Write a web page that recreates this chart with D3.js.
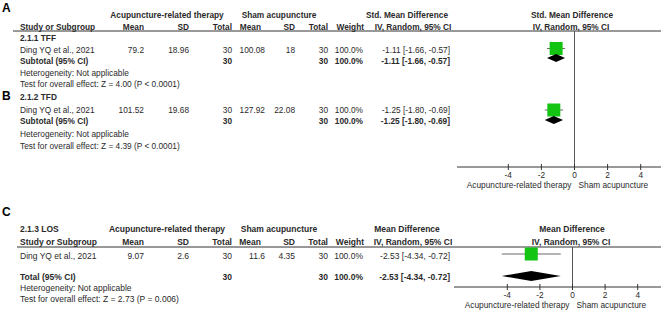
<!DOCTYPE html>
<html><head><meta charset="utf-8">
<script src="https://cdn.jsdelivr.net/npm/d3@7"></script>
<style>body{margin:0;background:#fff}svg{display:block}</style>
</head><body>
<script>
// ---- data ----
const panelLetters = ["A", "B", "C"];
const subgroupLabels = ["2.1.1 TFF", "2.1.2 TFD", "2.1.3 LOS"];
const studyNames = ["Ding YQ et al., 2021", "Ding YQ et al., 2021", "Ding YQ et al., 2021"];
const expMean = ["79.2", "101.52", "9.07"];
const expSD = ["18.96", "19.68", "2.6"];
const expTotal = [30, 30, 30];
const ctlMean = ["100.08", "127.92", "11.6"];
const ctlSD = ["18", "22.08", "4.35"];
const ctlTotal = [30, 30, 30];
const weights = ["100.0%", "100.0%", "100.0%"];
const estimates = [-1.11, -1.25, -2.53];
const ciLow = [-1.66, -1.80, -4.34];
const ciHigh = [-0.57, -0.69, -0.72];
const zValues = ["4.00", "4.39", "2.73"];
const pValues = ["P < 0.0001", "P < 0.0001", "P = 0.006"];
const effectLabels = ["Std. Mean Difference", "Std. Mean Difference", "Mean Difference"];
const axisTicks = [-4, -2, 0, 2, 4];
const groupNames = ["Acupuncture-related therapy", "Sham acupuncture"];

// ---- drawing ----
const W = 661, H = 322;
const svg = d3.select("body").append("svg").attr("width", W).attr("height", H)
  .style("font-family", "'Liberation Sans', Arial, sans-serif");
const TXT = "#2a2a2a";
const loc = d3.formatLocale({decimal: ".", thousands: ",", grouping: [3], currency: ["", ""], minus: "-"});
const f2 = loc.format(".2f");
const fd = loc.format("d");
const ciText = i => `${f2(estimates[i])} [${f2(ciLow[i])}, ${f2(ciHigh[i])}]`;

function t(x, y, s, opt = {}) {
  return svg.append("text").attr("x", x).attr("y", y + 3)
    .attr("text-anchor", opt.anchor || "start")
    .attr("font-size", opt.size || 8.3)
    .attr("font-weight", opt.bold ? "bold" : "normal")
    .attr("fill", opt.fill || TXT).text(s);
}

// scales for the two forest plots
const xAB = d3.scaleLinear().domain([-4, 4]).range([508.3, 640.7]);
const xC = d3.scaleLinear().domain([-4, 4]).range([507.3, 637.7]);

function header(yG, yC, lineY, lineX0, idx, sz) {
  t(167, yG, groupNames[0], {anchor: "middle", bold: true, size: sz});
  t(279, yG, groupNames[1], {anchor: "middle", bold: true, size: sz});
  t(407, yG, effectLabels[idx], {anchor: "middle", bold: true, size: sz});
  t(572, yG, effectLabels[idx], {anchor: "middle", bold: true, size: sz});
  t(20, yC, "Study or Subgroup", {bold: true, size: sz});
  t(144, yC, "Mean", {anchor: "end", bold: true, size: sz});
  t(189, yC, "SD", {anchor: "end", bold: true, size: sz});
  t(232, yC, "Total", {anchor: "end", bold: true, size: sz});
  t(261, yC, "Mean", {anchor: "end", bold: true, size: sz});
  t(295, yC, "SD", {anchor: "end", bold: true, size: sz});
  t(328, yC, "Total", {anchor: "end", bold: true, size: sz});
  t(364, yC, "Weight", {anchor: "end", bold: true, size: sz});
  t(413, yC, "IV, Random, 95% CI", {anchor: "middle", bold: true, size: sz});
  t(571, yC, "IV, Random, 95% CI", {anchor: "middle", bold: true, size: sz});
  svg.append("line").attr("x1", lineX0).attr("x2", W).attr("y1", lineY).attr("y2", lineY)
    .attr("stroke", "#333").attr("stroke-width", 1);
}

function studyRow(i, y, sz) {
  t(20, y, studyNames[i], {size: sz});
  t(144, y, expMean[i], {anchor: "end", size: sz});
  t(189, y, expSD[i], {anchor: "end", size: sz});
  t(232, y, expTotal[i], {anchor: "end", size: sz});
  t(265, y, ctlMean[i], {anchor: "end", size: sz});
  t(295, y, ctlSD[i], {anchor: "end", size: sz});
  t(328, y, ctlTotal[i], {anchor: "end", size: sz});
  t(363, y, weights[i], {anchor: "end", size: sz});
  t(450, y, ciText(i), {anchor: "end", size: sz});
}
function totalRow(i, y, label, sz) {
  t(20, y, label, {bold: true, size: sz});
  t(232, y, expTotal[i], {anchor: "end", bold: true, size: sz});
  t(328, y, ctlTotal[i], {anchor: "end", bold: true, size: sz});
  t(363, y, weights[i], {anchor: "end", bold: true, size: sz});
  t(450, y, ciText(i), {anchor: "end", bold: true, size: sz});
}
function notes(i, y1, y2, sz) {
  t(20, y1, "Heterogeneity: Not applicable", {size: sz});
  t(20, y2, `Test for overall effect: Z = ${zValues[i]} (${pValues[i]})`, {size: sz});
}
function marks(i, x, ySq, yDia, sq, dh) {
  svg.append("line").attr("x1", x(ciLow[i])).attr("x2", x(ciHigh[i]))
    .attr("y1", ySq).attr("y2", ySq).attr("stroke", "#6a6a6a").attr("stroke-width", 1);
  svg.append("rect").attr("x", x(estimates[i]) - sq / 2).attr("y", ySq - sq / 2)
    .attr("width", sq).attr("height", sq).attr("fill", "#13c413");
  svg.append("path").attr("d",
    `M${x(ciLow[i])},${yDia}L${x(estimates[i])},${yDia - dh}L${x(ciHigh[i])},${yDia}L${x(estimates[i])},${yDia + dh}Z`)
    .attr("fill", "#000");
}
function axis(x, y, x0, yLeg) {
  svg.append("line").attr("x1", x0).attr("x2", W).attr("y1", y).attr("y2", y)
    .attr("stroke", "#333").attr("stroke-width", 1);
  const g = svg.append("g");
  axisTicks.forEach(v => {
    g.append("line").attr("x1", x(v)).attr("x2", x(v)).attr("y1", y - 3).attr("y2", y + 3)
      .attr("stroke", "#333");
    t(x(v), y + 8, fd(v), {anchor: "middle", size: 8.3});
  });
  t(x(0) - 3, yLeg, groupNames[0], {anchor: "end", size: 8.3});
  t(x(0) + 4, yLeg, groupNames[1], {size: 8.3});
}

// Panel A
t(2, 9, panelLetters[0], {bold: true, size: 12, fill: "#000"});
header(15, 27, 31, 13, 0, 8.3);
t(20, 38, subgroupLabels[0], {bold: true});
studyRow(0, 50, 8.3);
totalRow(0, 61, "Subtotal (95% CI)", 8.3);
notes(0, 73, 84, 8.3);
marks(0, xAB, 48.5, 58, 13, 4);

// Panel B
t(2, 97, panelLetters[1], {bold: true, size: 12, fill: "#000"});
t(20, 97, subgroupLabels[1], {bold: true});
studyRow(1, 110, 8.3);
totalRow(1, 121, "Subtotal (95% CI)", 8.3);
notes(1, 134, 146, 8.3);
marks(1, xAB, 110, 120, 13, 4);

// zero line + axis A/B
svg.append("line").attr("x1", xAB(0)).attr("x2", xAB(0)).attr("y1", 31).attr("y2", 167)
  .attr("stroke", "#555");
axis(xAB, 167, 457, 185);

// Panel C
t(2, 213, panelLetters[2], {bold: true, size: 12, fill: "#000"});
t(20, 229, subgroupLabels[2], {bold: true, size: 8.5});
header(229, 242, 247, 17, 2, 8.5);
studyRow(2, 256, 8.5);
totalRow(2, 277, "Total (95% CI)", 8.5);
notes(2, 288, 299, 8.5);
marks(2, xC, 254, 276, 13, 5);
svg.append("line").attr("x1", xC(0)).attr("x2", xC(0)).attr("y1", 247).attr("y2", 287)
  .attr("stroke", "#555");
axis(xC, 287, 454, 305);
</script>
</body></html>
